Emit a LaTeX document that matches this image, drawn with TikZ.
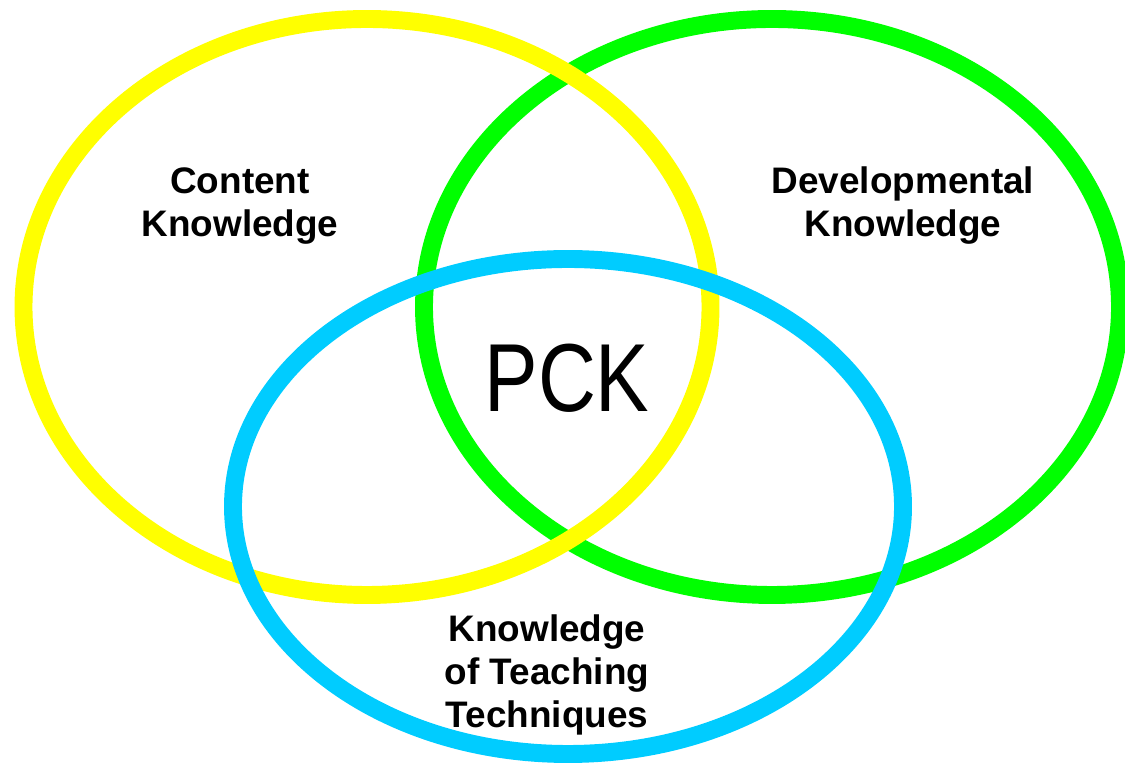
\documentclass[tikz,border=0pt]{standalone}
\usepackage{fontspec}
\setmainfont{Liberation Sans}
\newfontfamily\pckfont[FakeStretch=0.83]{Liberation Sans}
\definecolor{ringyellow}{HTML}{FFFF00}
\definecolor{ringgreen}{HTML}{00FF00}
\definecolor{ringblue}{HTML}{00CCFF}
\tikzset{
    ring/.style={line width=10.2pt},
    areatext/.style={align=center, font=\fontsize{21}{24.5}\selectfont\bfseries}
}
\begin{document}
\begin{tikzpicture}
            \useasboundingbox (0,0) rectangle (22.5,15.28);
            \draw[ring, ringgreen] (15.44,9.14) ellipse (6.96 and 5.76);
            \draw[ring, ringyellow] (7.34,9.14) ellipse (6.87 and 5.76);
            \draw[ring, ringblue] (11.36,5.15) ellipse (6.70 and 4.95);

            \node[areatext] (content) at (4.80,11.16) {Content\\Knowledge};
            \node[areatext] (develop) at (18.06,11.16) {Developmental\\Knowledge};
            \node[areatext] (teaching) at (10.94,1.78) {Knowledge\\of Teaching\\Techniques};
            \node[font=\pckfont\fontsize{55}{60}\selectfont] (pck) at (11.34,7.72) {PCK};
        \end{tikzpicture}
\end{document}
